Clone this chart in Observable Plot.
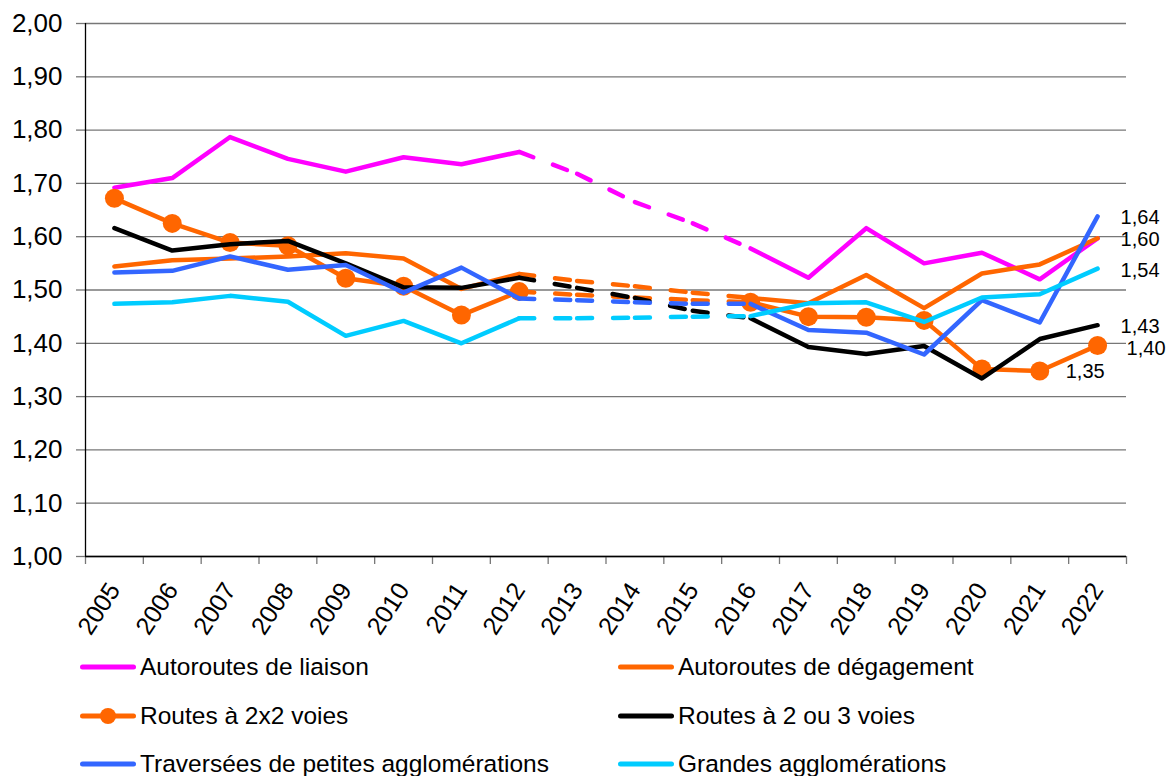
<!DOCTYPE html>
<html>
<head>
<meta charset="utf-8">
<script src="https://cdn.jsdelivr.net/npm/d3@7"></script>
<script src="https://cdn.jsdelivr.net/npm/@observablehq/plot@0.6"></script>
<style>
  body { margin: 0; background: #fff; font-family: "Liberation Sans", Arial, sans-serif; }
  #wrap { position: relative; width: 1171px; height: 776px; overflow: hidden; background: #fff; }
  .leg { position: absolute; display: flex; align-items: center; font-size: 24.5px; color: #000; white-space: nowrap; }
  .leg svg { display: block; margin-right: 4px; }
</style>
</head>
<body>
<div id="wrap"></div>
<script>
// ---- Data ----
const years = [2005, 2006, 2007, 2008, 2009, 2010, 2011, 2012, 2013, 2014, 2015, 2016, 2017, 2018, 2019, 2020, 2021, 2022];
// years between which the curves are drawn dashed (estimated period)
const dashedFrom = 2012;
const dashedTo = 2016;

const autoroutesLiaison     = [1.692, 1.710, 1.787, 1.746, 1.722, 1.749, 1.736, 1.759, 1.718, 1.665, 1.625, 1.578, 1.523, 1.616, 1.550, 1.570, 1.520, 1.597];
const autoroutesDegagement  = [1.544, 1.556, 1.559, 1.563, 1.569, 1.559, 1.502, 1.530, 1.517, 1.507, 1.495, 1.485, 1.475, 1.528, 1.466, 1.531, 1.548, 1.597];
const routes2x2             = [1.672, 1.625, 1.589, 1.583, 1.522, 1.507, 1.453, 1.497, 1.491, 1.486, 1.481, 1.477, 1.450, 1.449, 1.443, 1.352, 1.348, 1.396];
const routes2ou3            = [1.616, 1.574, 1.586, 1.592, 1.550, 1.505, 1.504, 1.523, 1.504, 1.485, 1.461, 1.447, 1.393, 1.380, 1.395, 1.334, 1.408, 1.434];
const traverseesPetites     = [1.533, 1.536, 1.563, 1.538, 1.547, 1.495, 1.542, 1.484, 1.481, 1.477, 1.474, 1.474, 1.425, 1.420, 1.379, 1.481, 1.439, 1.638];
const grandesAgglomerations = [1.474, 1.477, 1.489, 1.478, 1.414, 1.442, 1.400, 1.447, 1.447, 1.448, 1.450, 1.451, 1.475, 1.477, 1.440, 1.486, 1.492, 1.540];

const seriesNames = [
  "Autoroutes de liaison",
  "Autoroutes de dégagement",
  "Routes à 2x2 voies",
  "Routes à 2 ou 3 voies",
  "Traversées de petites agglomérations",
  "Grandes agglomérations"
];
const yTicks = [1.0, 1.1, 1.2, 1.3, 1.4, 1.5, 1.6, 1.7, 1.8, 1.9, 2.0];

// ---- Styles ----
const seriesValues = [autoroutesLiaison, autoroutesDegagement, routes2x2, routes2ou3, traverseesPetites, grandesAgglomerations];
const seriesColors = ["#ff00ff", "#ff6600", "#ff6600", "#000000", "#3366ff", "#00ccff"];
const seriesMarker = [false, false, true, false, false, false];

const fmt = d => d3.format(".2f")(d).replace(".", ",");
const LW = 4.5;
const FONT = "'Liberation Sans', Arial, sans-serif";

// ---- Build marks ----
const marks = [];
marks.push(Plot.gridY(yTicks, {stroke: "#777", strokeOpacity: 1, strokeWidth: 1.3}));
marks.push(Plot.axisY(yTicks, {tickSize: 9, tickFormat: () => "", stroke: "#777", strokeWidth: 1.3, label: null}));
marks.push(Plot.axisY(yTicks, {tickSize: 0, tickPadding: 23, fontSize: 26, tickFormat: fmt, label: null}));
const bounds = years.map(y => y - 0.5).concat([years[years.length - 1] + 0.5]);
marks.push(Plot.axisX(bounds, {tickSize: 8, tickFormat: () => "", stroke: "#777", strokeWidth: 1.3, label: null}));
marks.push(Plot.axisX(years, {tickSize: 0, tickPadding: 29, tickRotate: -57, fontSize: 25, textAnchor: "end", lineAnchor: "middle", tickFormat: d => String(d), label: null}));
marks.push(Plot.ruleY([1], {stroke: "#000", strokeWidth: 1.3}));
marks.push(Plot.ruleX([years[0] - 0.5], {stroke: "#000", strokeWidth: 1.3}));

seriesNames.forEach((name, i) => {
  const vals = seriesValues[i];
  const rows = years.map((yr, j) => ({year: yr, value: vals[j], part: yr <= dashedFrom ? "a" : "b"}));
  const solid = rows.filter(r => r.year <= dashedFrom || r.year >= dashedTo);
  const segs = [];
  for (let j = 0; j < years.length - 1; j++) {
    if (years[j] >= dashedFrom && years[j + 1] <= dashedTo) {
      segs.push({x1: years[j], y1: vals[j], x2: years[j + 1], y2: vals[j + 1]});
    }
  }
  marks.push(Plot.line(solid, {x: "year", y: "value", z: "part", stroke: seriesColors[i], strokeWidth: LW, strokeLinejoin: "round", strokeLinecap: "round"}));
  marks.push(Plot.link(segs, {x1: "x1", y1: "y1", x2: "x2", y2: "y2", stroke: seriesColors[i], strokeWidth: LW, strokeLinecap: "round", strokeDasharray: "15,21,15,80"}));
  if (seriesMarker[i]) {
    const dots = rows.filter(r => r.year <= dashedFrom || r.year >= dashedTo);
    marks.push(Plot.dot(dots, {x: "year", y: "value", r: 9.5, fill: seriesColors[i], stroke: "none"}));
  }
});

// end-value labels
const last = years.length - 1;
const lbl = (yr, v, dx, dy) => Plot.text([{year: yr, value: v}], {x: "year", y: "value", text: d => fmt(d.value), dx, dy, textAnchor: "start", fontSize: 20, fill: "#000"});
marks.push(lbl(years[last], traverseesPetites[last], 23, 1));
marks.push(lbl(years[last], autoroutesDegagement[last], 23, 1));
marks.push(lbl(years[last], grandesAgglomerations[last], 23, 2));
marks.push(lbl(years[last], routes2ou3[last], 23, 1));
marks.push(lbl(years[last], routes2x2[last], 29, 3));
marks.push(lbl(years[last - 1], routes2x2[last - 1], 26, 1));

const chart = Plot.plot({
  width: 1171,
  height: 645,
  marginLeft: 85,
  marginRight: 45,
  marginTop: 23,
  marginBottom: 89,
  x: {type: "linear", domain: [years[0] - 0.5, years[last] + 0.5], label: null},
  y: {domain: [1, 2], label: null},
  style: {fontFamily: FONT, background: "white", color: "#000", overflow: "visible"},
  marks
});
const wrap = document.getElementById("wrap");
wrap.appendChild(chart);

// ---- Legend (HTML, below the SVG) ----
const legCols = [80, 618];
const legRows = [667, 716, 764];
seriesNames.forEach((name, i) => {
  const div = document.createElement("div");
  div.className = "leg";
  div.style.left = legCols[i % 2] + "px";
  div.style.top = (legRows[Math.floor(i / 2)] - 15) + "px";
  div.style.height = "30px";
  const ns = "http://www.w3.org/2000/svg";
  const svg = document.createElementNS(ns, "svg");
  svg.setAttribute("width", "56");
  svg.setAttribute("height", "20");
  const line = document.createElementNS(ns, "line");
  line.setAttribute("x1", "2.5"); line.setAttribute("x2", "53.5");
  line.setAttribute("y1", "10"); line.setAttribute("y2", "10");
  line.setAttribute("stroke", seriesColors[i]);
  line.setAttribute("stroke-width", "5");
  line.setAttribute("stroke-linecap", "round");
  svg.appendChild(line);
  if (seriesMarker[i]) {
    const c = document.createElementNS(ns, "circle");
    c.setAttribute("cx", "28"); c.setAttribute("cy", "10"); c.setAttribute("r", "8");
    c.setAttribute("fill", seriesColors[i]);
    svg.appendChild(c);
  }
  div.appendChild(svg);
  const span = document.createElement("span");
  span.textContent = name;
  div.appendChild(span);
  wrap.appendChild(div);
});
</script>
</body>
</html>
